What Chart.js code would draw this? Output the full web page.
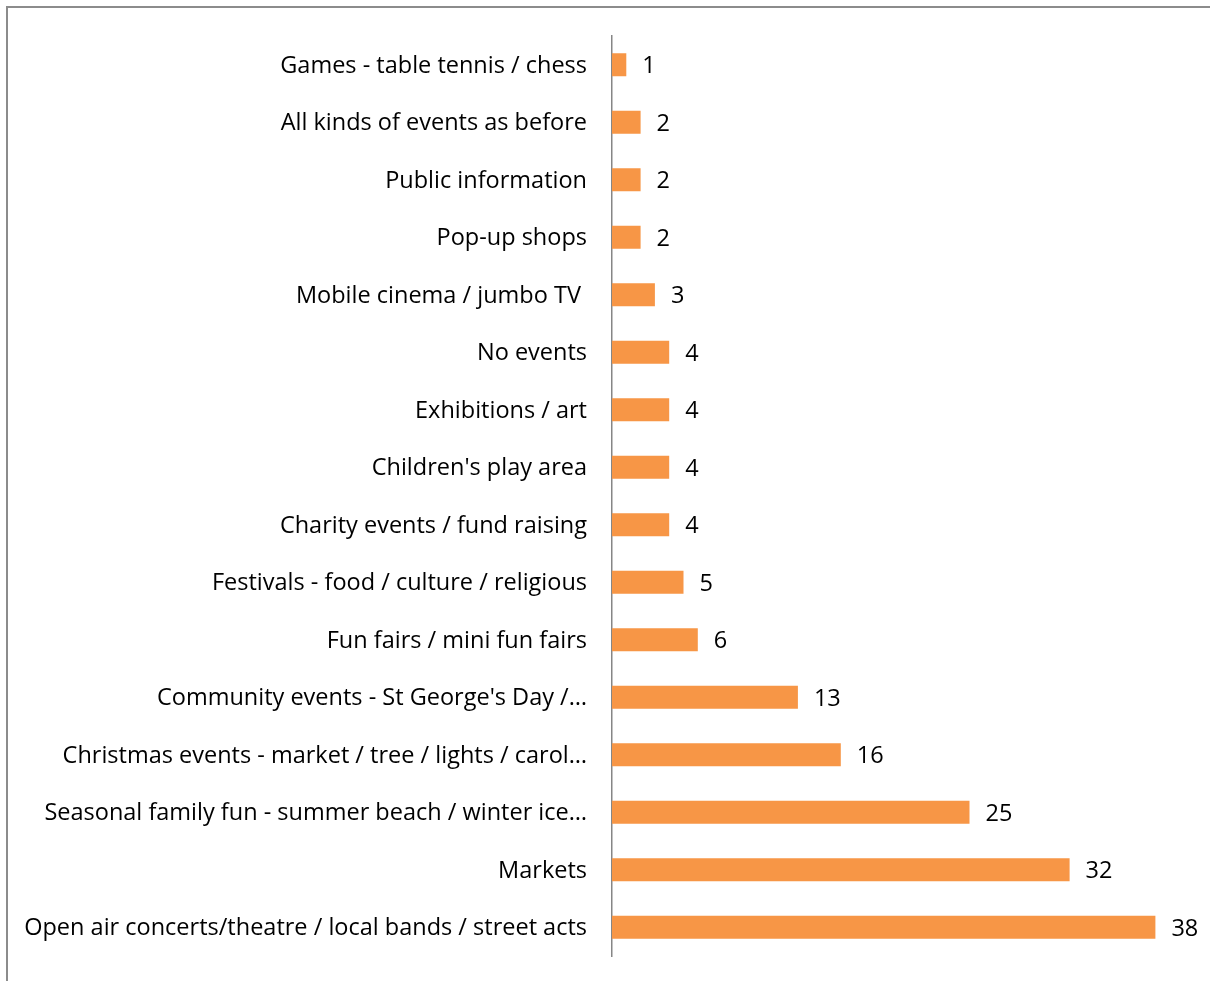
<!DOCTYPE html>
<html>
<head>
<meta charset="utf-8">
<script src="https://cdn.jsdelivr.net/npm/chart.js@4/dist/chart.umd.min.js"></script>
<style>
  html, body { margin: 0; padding: 0; background: #fff; overflow: hidden; }
  #frame { position: absolute; left: 6px; top: 6px; width: 1400px; height: 1200px;
           border-top: 2px solid #8c8c8c; border-left: 2px solid #8c8c8c; }
  #wrap { position: absolute; left: 0; top: 0; width: 1210px; height: 981px; }
</style>
</head>
<body>
<div id="frame"></div>
<div id="wrap"><canvas id="bar-chart"></canvas></div>
<script>
// categories, top to bottom
const labels = [
  "Games - table tennis / chess",
  "All kinds of events as before",
  "Public information",
  "Pop-up shops",
  "Mobile cinema / jumbo TV ",
  "No events",
  "Exhibitions / art",
  "Children's play area",
  "Charity events / fund raising",
  "Festivals - food / culture / religious",
  "Fun fairs / mini fun fairs",
  "Community events - St George's Day /\u2026",
  "Christmas events - market / tree / lights / carol\u2026",
  "Seasonal family fun - summer beach / winter ice\u2026",
  "Markets",
  "Open air concerts/theatre / local bands / street acts"
];
const counts = [1, 2, 2, 2, 3, 4, 4, 4, 4, 5, 6, 13, 16, 25, 32, 38];

const fontFamily = "'Open Sans', sans-serif";
const fontSize = 23.5;

// draws the value next to each bar
const valueLabels = {
  id: 'valueLabels',
  afterDatasetsDraw(chart) {
    const ctx = chart.ctx;
    const meta = chart.getDatasetMeta(0);
    ctx.save();
    ctx.font = fontSize + "px " + fontFamily;
    ctx.fillStyle = "#000";
    ctx.textAlign = "left";
    ctx.textBaseline = "middle";
    meta.data.forEach((bar, i) => {
      ctx.fillText(String(counts[i]), bar.x + 16, bar.y + 2);
    });
    ctx.restore();
  }
};

new Chart(document.getElementById("bar-chart"), {
  type: 'bar',
  data: {
    labels: labels,
    datasets: [{
      data: counts,
      backgroundColor: "#F79646",
      borderWidth: 0,
      categoryPercentage: 1,
      barPercentage: 0.4
    }]
  },
  options: {
    indexAxis: 'y',
    responsive: true,
    maintainAspectRatio: false,
    animation: false,
    layout: { padding: { left: 0, right: 26, top: 36, bottom: 25 } },
    plugins: {
      legend: { display: false },
      tooltip: { enabled: false }
    },
    scales: {
      x: {
        display: false,
        min: 0,
        max: 40
      },
      y: {
        grid: { display: false },
        border: { display: true, color: "#868686", width: 1.5 },
        ticks: {
          color: "#000",
          padding: 17,
          labelOffset: 1.5,
          font: { family: fontFamily, size: fontSize },
          autoSkip: false
        },
        afterFit(scale) {
          scale.width = 612;
          scale.paddingTop = 0;
          scale.paddingBottom = 0;
        }
      }
    }
  },
  plugins: [valueLabels]
});
</script>
</body>
</html>
